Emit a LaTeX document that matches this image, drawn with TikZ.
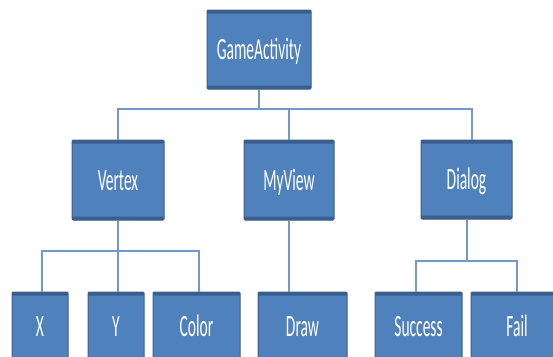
\documentclass[tikz,border=0pt]{standalone}
\usepackage{fontspec}
\newfontfamily\boxfont[FakeStretch=0.5]{Carlito}
\definecolor{boxfill}{HTML}{4F81BD}
\definecolor{boxdark}{HTML}{3A5F8C}
\definecolor{conncol}{HTML}{7498C9}
\tikzset{
  box/.style={draw=boxdark, fill=boxfill, line width=1pt, rounded corners=1pt,
    inner sep=0pt, text=white, font=\boxfont\fontsize{31pt}{31pt}\selectfont,
    text height=20pt, text depth=0pt,
    path picture={
      \fill[boxdark] (path picture bounding box.north west) rectangle ([yshift=-3.5pt]path picture bounding box.north east);
      \fill[boxdark] (path picture bounding box.south west) rectangle ([yshift=3.5pt]path picture bounding box.south east);
    }},
  conn/.style={draw=conncol, line width=1.3pt}
}
\begin{document}
\begin{tikzpicture}[x=1pt,y=-1pt]
\useasboundingbox (0,0) rectangle (553,356);
\clip (0,0) rectangle (553,356);
% top
\node[box, minimum width=104pt, minimum height=79pt] (GA) at (259,49.5) {GameActivity};
% second level
\node[box, minimum width=92pt, minimum height=80pt] (Vertex) at (118,180) {Vertex};
\node[box, minimum width=90pt, minimum height=80pt] (MyView) at (289,180) {MyView};
\node[box, minimum width=91pt, minimum height=79pt] (Dialog) at (466.5,179.5) {Dialog};
% third level
\node[box, minimum width=56pt, minimum height=69pt] (X) at (40,326.5) {X};
\node[box, minimum width=56pt, minimum height=69pt] (Y) at (116,326.5) {Y};
\node[box, minimum width=87pt, minimum height=69pt] (Color) at (196.5,326.5) {Color};
\node[box, minimum width=89pt, minimum height=69pt] (Draw) at (302.5,326.5) {Draw};
\node[box, minimum width=87pt, minimum height=69pt] (Success) at (418.5,326.5) {Success};
\node[box, minimum width=92pt, minimum height=69pt] (Fail) at (517,326.5) {Fail};
% bus coordinates
\coordinate (b1) at (259,109);
\coordinate (b2) at (118,251);
\coordinate (b3) at (467,261);
% connectors level 1
\begin{scope}[on background layer/.style={}]
\draw[conn] (GA.south) -- (b1);
\draw[conn] (Vertex.north) |- (b1) -| ([xshift=5.5pt]Dialog.north);
\draw[conn] (b1) -| (MyView.north);
% Vertex children
\draw[conn] (Vertex.south) -- (b2);
\draw[conn] ([xshift=2pt]X.north) |- (b2) -| ([xshift=2.5pt]Color.north);
\draw[conn] (b2) -- (b2 |- Y.north);
% MyView child
\draw[conn] (MyView.south) -- (MyView.south |- Draw.north);
% Dialog children
\draw[conn] ([xshift=0.5pt]Dialog.south) -- (b3);
\draw[conn] ([xshift=-2.5pt]Success.north) |- (b3) -| (Fail.north);
\end{scope}
\end{tikzpicture}
\end{document}
